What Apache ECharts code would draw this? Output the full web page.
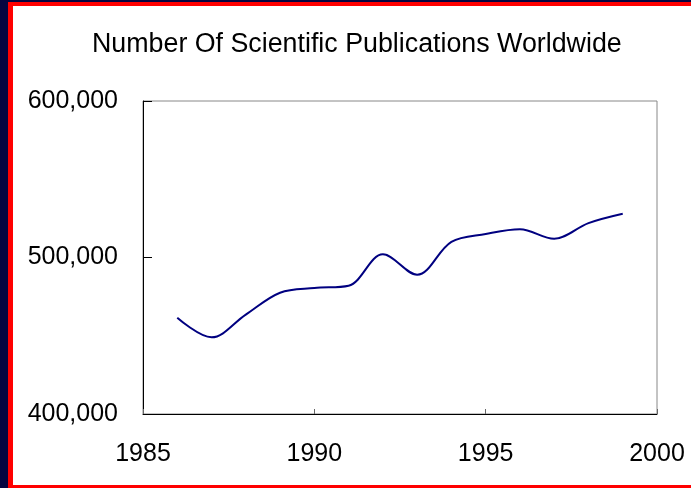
<!DOCTYPE html>
<html>
<head>
<meta charset="utf-8">
<script src="https://cdn.jsdelivr.net/npm/echarts@6/dist/echarts.min.js"></script>
<style>
  html, body { margin: 0; padding: 0; width: 691px; height: 488px; overflow: hidden; background: #050540; }
  #frame { position: absolute; left: 8px; top: 2px; width: 700px; height: 479px; background: #fff;
           border-left: 5px solid #f00; border-top: 4px solid #f00; border-bottom: 3px solid #f00; }
  #chart { position: absolute; left: 0; top: 0; width: 691px; height: 488px; }
</style>
</head>
<body>
<div id="frame"></div>
<div id="chart"></div>
<script>
  // yearly totals
  const years = [1986, 1987, 1988, 1989, 1990, 1991, 1992, 1993, 1994, 1995, 1996, 1997, 1998, 1999]
  const pubs = [461500, 449000, 463500, 477500, 480500, 482000, 502000, 489000, 510000, 515000, 518000, 512000, 522000, 528000]

  let chart = echarts.init(document.getElementById('chart'))
  let font = 'Liberation Sans, Arial, sans-serif'
  let option = {
    animation: false,
    backgroundColor: 'transparent',
    title: {
      text: 'Number Of Scientific Publications Worldwide',
      left: 87,
      top: 26,
      textStyle: { fontFamily: font, fontSize: 26.8, fontWeight: 'normal', color: '#000' }
    },
    grid: {
      left: 143,
      top: 101,
      right: 34,
      bottom: 74,
      show: true,
      borderColor: '#888',
      borderWidth: 1
    },
    xAxis: {
      type: 'value',
      min: 1985,
      max: 2000,
      interval: 5,
      axisLine: { lineStyle: { color: '#000', width: 1 } },
      axisTick: { inside: true, length: 5, lineStyle: { color: '#666' } },
      axisLabel: { fontFamily: font, fontSize: 25, color: '#000', margin: 28, formatter: v => String(v) },
      splitLine: { show: false }
    },
    yAxis: {
      type: 'value',
      min: 400000,
      max: 600000,
      interval: 100000,
      axisLine: { show: true, lineStyle: { color: '#000', width: 1 } },
      axisTick: { show: true, inside: true, length: 9, lineStyle: { color: '#000' } },
      axisLabel: {
        fontFamily: font, fontSize: 25, color: '#000', margin: 25,
        formatter: v => v.toLocaleString('en-US')
      },
      splitLine: { show: false }
    },
    series: [{
      type: 'line',
      data: years.map((y, i) => [y, pubs[i]]),
      smooth: 0.35,
      showSymbol: false,
      lineStyle: { color: '#000080', width: 2 }
    }]
  }
  chart.setOption(option)
</script>
</body>
</html>
